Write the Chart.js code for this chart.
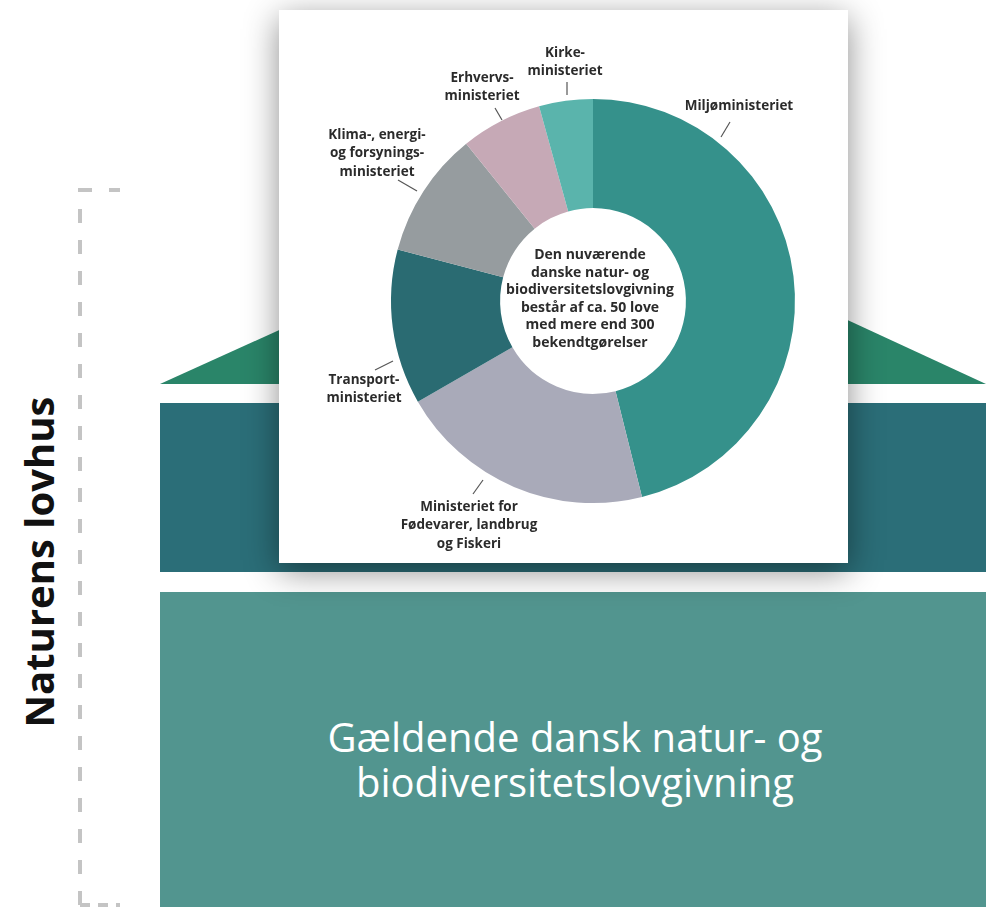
<!DOCTYPE html>
<html>
<head>
<meta charset="utf-8">
<script src="https://cdn.jsdelivr.net/npm/chart.js@4"></script>
<style>
  html, body { margin:0; padding:0; background:#ffffff; }
  #page { position:relative; width:997px; height:907px; overflow:hidden; background:#ffffff; font-family:"Open Sans", sans-serif; }
  #bg { position:absolute; left:0; top:0; }
  #card { position:absolute; left:279px; top:10px; width:569px; height:553px; background:#ffffff;
          box-shadow: 0 8px 32px rgba(0,0,0,0.45); }
  #card canvas { display:block; }
  #vtitle { position:absolute; left:38px; top:562px; transform:translate(-50%,-50%) rotate(-90deg);
            white-space:nowrap; font-family:"Open Sans", sans-serif; font-weight:700; font-size:40px; color:#111; }
  #base { position:absolute; left:160px; top:714px; width:830px; text-align:center; color:#ffffff;
          font-family:"Open Sans", sans-serif; font-size:40px; line-height:45px; }
</style>
</head>
<body>
<div id="page">
  <svg id="bg" width="997" height="907">
    <polygon points="160,384 577,195 986,384" fill="#2a8569"/>
    <rect x="160" y="403" width="826" height="169" fill="#2b6e78"/>
    <rect x="160" y="592" width="826" height="315" fill="#52958f"/>
    <path d="M80,905 L80,190 L120,190" fill="none" stroke="#c4c4c4" stroke-width="4" stroke-dasharray="14,17"/>
    <path d="M80,905 L120,905" fill="none" stroke="#c4c4c4" stroke-width="4" stroke-dasharray="10,8"/>
  </svg>
  <div id="vtitle">Naturens lovhus</div>
  <div id="base">Gældende dansk natur- og<br>biodiversitetslovgivning</div>
  <div id="card"><canvas id="c" width="569" height="553"></canvas></div>
</div>
<script>
const categories = ["Miljøministeriet", "Ministeriet for Fødevarer, landbrug og Fiskeri", "Transportministeriet",
                    "Klima-, energi- og forsyningsministeriet", "Erhvervsministeriet", "Kirkeministeriet"];
const shares = [46.1, 20.6, 12.4, 10.1, 6.5, 4.3];
const labelLines = [
  ["Miljøministeriet"],
  ["Ministeriet for", "Fødevarer, landbrug", "og Fiskeri"],
  ["Transport-", "ministeriet"],
  ["Klima-, energi-", "og forsynings-", "ministeriet"],
  ["Erhvervs-", "ministeriet"],
  ["Kirke-", "ministeriet"]
];
const centerLines = ["Den nuværende", "danske natur- og", "biodiversitetslovgivning", "består af ca. 50 love", "med mere end 300", "bekendtgørelser"];

const sliceColors = ["#35918b", "#a9aab9", "#2a6b72", "#969c9f", "#c6a9b6", "#5ab4ac"];

// label layout: text anchor and leader line, offsets from chart centre (px)
const labelLayout = [
  { tx: 146, ty: -195, l: [137, -179, 128, -164] },
  { tx: -124, ty: 206, l: [-110, 179, -120, 193] },
  { tx: -229, ty: 79, l: [-200, 60, -218, 69] },
  { tx: -216, ty: -166, l: [-195, -121, -176, -110] },
  { tx: -111, ty: -223, l: [-98, -193, -91, -181] },
  { tx: -28, ty: -248, l: [-26, -219, -26, -206] }
];

const annotatePlugin = {
  id: 'annotate',
  afterDraw(chart) {
    const ctx = chart.ctx;
    const arc0 = chart.getDatasetMeta(0).data[0];
    const cx = arc0.x, cy = arc0.y;
    ctx.save();
    ctx.fillStyle = "#2b2b2b";
    ctx.strokeStyle = "#555555";
    ctx.lineWidth = 1.2;
    ctx.textAlign = "center";
    ctx.textBaseline = "middle";
    ctx.font = "700 13.5px 'Open Sans', sans-serif";
    labelLayout.forEach((p, i) => {
      ctx.beginPath();
      ctx.moveTo(cx + p.l[0], cy + p.l[1]);
      ctx.lineTo(cx + p.l[2], cy + p.l[3]);
      ctx.stroke();
      labelLines[i].forEach((t, j) => {
        ctx.fillText(t, cx + p.tx, cy + p.ty + j * 18.5);
      });
    });
    ctx.font = "700 14px 'Open Sans', sans-serif";
    const lh = 17.6;
    const y0 = cy - 2 - lh * (centerLines.length - 1) / 2;
    centerLines.forEach((t, j) => ctx.fillText(t, cx - 3, y0 + j * lh));
    ctx.restore();
  }
};

new Chart(document.getElementById('c'), {
  type: 'doughnut',
  data: {
    labels: categories,
    datasets: [{ data: shares, backgroundColor: sliceColors, borderWidth: 0 }]
  },
  options: {
    responsive: false,
    animation: false,
    cutout: '46%',
    layout: { padding: { left: 112, right: 53, top: 89, bottom: 60 } },
    plugins: { legend: { display: false }, tooltip: { enabled: false } }
  },
  plugins: [annotatePlugin]
});
</script>
</body>
</html>
